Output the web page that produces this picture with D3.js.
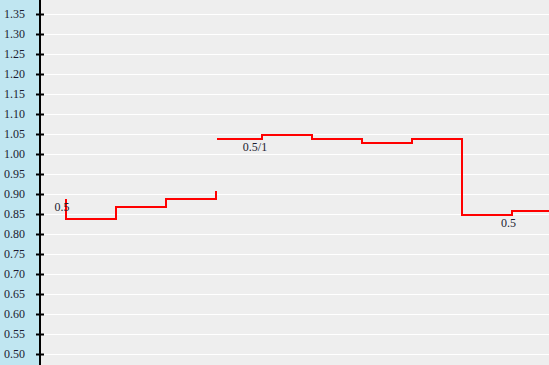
<!DOCTYPE html>
<html>
<head>
<meta charset="utf-8">
<script src="https://cdn.jsdelivr.net/npm/d3@7"></script>
<style>
  html, body { margin: 0; padding: 0; background: #eeeeee; }
  svg { display: block; }
</style>
</head>
<body>
<svg id="chart" width="549" height="365"></svg>
<script>
// y ticks shown on the axis
const yTicks = [0.50, 0.55, 0.60, 0.65, 0.70, 0.75, 0.80, 0.85, 0.90, 0.95,
                1.00, 1.05, 1.10, 1.15, 1.20, 1.25, 1.30, 1.35];

// first run of the step line
const runAX = [1, 1, 2, 3, 4];
const runAY = [0.89, 0.84, 0.87, 0.89, 0.91];

// second run of the step line
const runBX = [4.02, 4.92, 5.92, 6.92, 7.92, 8.92, 9.92, 10.8];
const runBY = [1.04, 1.05, 1.04, 1.03, 1.04, 0.85, 0.86, 0.86];

// text labels beside the line
const labelText = ["0.5", "0.5/1", "0.5"];
const labelX = [0.92, 4.78, 9.85];
const labelY = [0.89, 1.04, 0.85];

let svg = d3.select("#chart");
let width = +svg.attr("width");
let height = +svg.attr("height");
let axisX = 40;

let x = d3.scaleLinear().domain([0, 10]).range([16, 516]);
let y = d3.scaleLinear().domain([0.5, 1.35]).range([354, 14]);

// background
svg.append("rect").attr("width", width).attr("height", height).attr("fill", "#eeeeee");
svg.append("rect").attr("width", axisX).attr("height", height).attr("fill", "#c0e6f1");

// grid lines
svg.append("g")
    .selectAll("line")
    .data(yTicks)
    .join("line")
    .attr("x1", axisX + 1)
    .attr("x2", width)
    .attr("y1", d => Math.round(y(d)) + 0.5)
    .attr("y2", d => Math.round(y(d)) + 0.5)
    .attr("stroke", "#ffffff")
    .attr("stroke-width", 1.2);

// y axis
let yAxis = d3.axisLeft(y)
    .tickValues(yTicks)
    .tickFormat(d3.format(".2f"))
    .tickSize(4);
let axisG = svg.append("g")
    .attr("transform", "translate(" + axisX + ",0)")
    .call(yAxis);
axisG.select(".domain").remove();
axisG.selectAll(".tick line")
    .attr("x1", -4)
    .attr("x2", 4)
    .attr("stroke", "#000")
    .attr("stroke-width", 2);
axisG.selectAll(".tick text")
    .attr("x", -15)
    .attr("dy", "0.25em")
    .attr("fill", "#1c1c30")
    .style("font-family", "'Liberation Serif', serif")
    .style("font-size", "12px");
svg.append("line")
    .attr("x1", axisX).attr("x2", axisX)
    .attr("y1", 0).attr("y2", height)
    .attr("stroke", "#000")
    .attr("stroke-width", 2);

// step line
let line = d3.line()
    .x(d => x(d[0]))
    .y(d => y(d[1]))
    .curve(d3.curveStepAfter);

let runs = [d3.zip(runAX, runAY), d3.zip(runBX, runBY)];
svg.append("g")
    .attr("transform", "translate(0,1)")
    .selectAll("path")
    .data(runs)
    .join("path")
    .attr("d", line)
    .attr("fill", "none")
    .attr("stroke", "#ff0000")
    .attr("stroke-width", 2);

// labels
svg.append("g")
    .selectAll("text")
    .data(labelText)
    .join("text")
    .attr("x", (d, i) => x(labelX[i]))
    .attr("y", (d, i) => y(labelY[i]) + 13)
    .attr("text-anchor", "middle")
    .attr("fill", "#1c1c30")
    .style("font-family", "'Liberation Serif', serif")
    .style("font-size", "12px")
    .text(d => d);
</script>
</body>
</html>
